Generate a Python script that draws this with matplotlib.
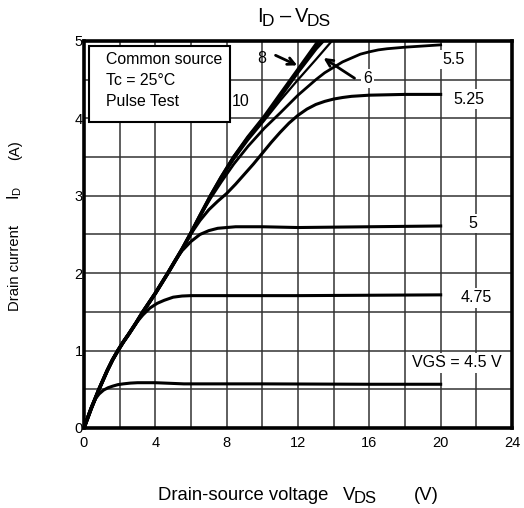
import numpy as np
import matplotlib
matplotlib.use('Agg')
import matplotlib.pyplot as plt
from matplotlib.patches import Rectangle

plt.rcParams['font.family'] = ['Liberation Sans', 'DejaVu Sans']
plt.rcParams['mathtext.fontset'] = 'custom'
plt.rcParams['mathtext.rm'] = 'Liberation Sans'
plt.rcParams['mathtext.it'] = 'Liberation Sans'

#
# curve data: VDS (V), ID (A)
# the higher VGS curves share the common linear part near the origin
#
v_main = [0, 0.4, 0.84, 1.3, 1.6, 1.9, 2.2, 2.5, 2.9, 3.3, 4.0, 4.7, 5.5, 6.0, 6.5, 7.1,
          7.7, 8.4]
i_main = [0, 0.25, 0.5, 0.74, 0.88, 1.0, 1.11, 1.21, 1.35, 1.5, 1.74, 2.0, 2.31, 2.52, 2.74,
          3.0, 3.24, 3.5]

v_10 = v_main + [9.2, 10.1, 11.0, 12.0, 13.15]
i_10 = i_main + [3.76, 4.02, 4.31, 4.63, 5.0]

v_8 = v_main + [9.2, 10.1, 11.0, 12.0, 13.0, 13.4]
i_8 = i_main + [3.75, 4.0, 4.28, 4.6, 4.9, 5.0]

v_6 = v_main[:16] + [7.7, 8.4, 9.2, 10.1, 11.0, 12.0, 13.0, 13.9]
i_6 = i_main[:16] + [3.23, 3.47, 3.72, 3.97, 4.23, 4.5, 4.76, 5.0]

v_55 = v_main[:15] + [7.1, 7.7, 8.4, 9.2, 10.1, 11.0, 12.0, 13.0, 13.5, 14.0, 14.5, 15.0,
                      15.5, 16.0, 16.5, 17.0, 18.0, 20.0]
i_55 = i_main[:15] + [2.97, 3.18, 3.41, 3.64, 3.87, 4.07, 4.30, 4.50, 4.59, 4.66, 4.73, 4.78,
                      4.83, 4.86, 4.885, 4.90, 4.92, 4.95]

v_525 = v_main[:13] + [6.0, 6.5, 7.0, 7.5, 8.0, 8.5, 9.0, 9.5, 10.0, 10.5, 11.0, 11.5,
                       12.0, 12.5, 13.0, 13.5, 14.0, 14.5, 15.0, 16.0, 18.0, 20.0]
i_525 = i_main[:13] + [2.51, 2.68, 2.82, 2.93, 3.03, 3.15, 3.28, 3.41, 3.55, 3.69, 3.82, 3.94,
                       4.04, 4.12, 4.18, 4.22, 4.25, 4.27, 4.285, 4.30, 4.31, 4.31]

v_5 = v_main[:12] + [5.1, 5.5, 6.0, 6.5, 7.0, 7.5, 8.0, 8.5, 10.0, 12.0, 14.0, 16.0, 20.0]
i_5 = i_main[:12] + [2.16, 2.29, 2.41, 2.50, 2.55, 2.58, 2.59, 2.60, 2.60, 2.59, 2.595, 2.60, 2.61]

v_475 = v_main[:9] + [3.3, 3.7, 4.1, 4.5, 5.0, 5.5, 6.0, 8.0, 12.0, 16.0, 20.0]
i_475 = i_main[:9] + [1.46, 1.55, 1.61, 1.65, 1.69, 1.705, 1.71, 1.71, 1.71, 1.715, 1.72]

v_45 = [0, 0.15, 0.3, 0.45, 0.65, 0.85, 1.1, 1.35, 1.6, 1.9, 2.2, 2.6, 3.0, 4.0, 5.6,
        10.0, 16.0, 20.0]
i_45 = [0, 0.1, 0.2, 0.29, 0.38, 0.44, 0.49, 0.52, 0.54, 0.56, 0.57, 0.58, 0.585, 0.585, 0.57,
        0.57, 0.565, 0.565]

curves = [(v_10, i_10, 2.6), (v_8, i_8, 2.6), (v_6, i_6, 1.6), (v_55, i_55, 2.0),
          (v_525, i_525, 2.2), (v_5, i_5, 2.2), (v_475, i_475, 2.2), (v_45, i_45, 2.2)]

# curve labels: text, x, y
labels = [('5.5', 20.7, 4.76), ('5.25', 21.6, 4.25), ('5', 21.8, 2.64),
          ('4.75', 22.0, 1.68), ('VGS = 4.5 V', 20.9, 0.84), ('6', 15.9, 4.52)]

x_major = np.arange(0, 25, 4)
x_minor = np.arange(0, 25, 2)
y_major = np.arange(0, 6, 1)
y_minor = np.arange(0, 5.01, 0.5)

W, H = 524.0, 508.0


def ptext(fig, px, py, s, size, ha='left', **kw):
    # place text by pixel position (from top-left), baseline aligned
    return fig.text(px / W, 1 - py / H, s, fontsize=size, ha=ha, va='baseline', **kw)


def main():
    fig = plt.figure(figsize=(5.24, 5.08), dpi=100)
    ax = fig.add_axes([0.1603, 0.1575, 0.8168, 0.7618])

    for v, i, lw in curves:
        ax.plot(v, i, color='black', lw=lw, solid_joinstyle='round', zorder=3)

    ax.set_xlim(0, 24)
    ax.set_ylim(0, 5)
    ax.set_xticks(x_major)
    ax.set_xticks(x_minor, minor=True)
    ax.set_yticks(y_major)
    ax.set_yticks(y_minor, minor=True)
    ax.tick_params(which='both', length=0, labelsize=10.5)
    ax.tick_params(axis='x', pad=6)
    ax.tick_params(axis='y', pad=1)
    ax.grid(which='both', color='#333333', lw=1.1)
    ax.set_axisbelow(True)
    for s in ax.spines.values():
        s.set_linewidth(2.6)

    for t, x, y in labels:
        ax.text(x, y, t, fontsize=11.5, ha='center', va='center', zorder=5,
                bbox=dict(facecolor='white', edgecolor='none', pad=1.5))
    ax.text(8.3, 4.22, '10', fontsize=11.5, ha='left', va='center', zorder=5,
            bbox=dict(facecolor='white', edgecolor='none', pad=1.0))
    ax.text(9.95, 4.78, '8', fontsize=11.5, ha='center', va='center', zorder=5)

    arrow = dict(arrowstyle='->,head_length=0.5,head_width=0.25', lw=2, color='black')
    ax.annotate('', xy=(12.1, 4.67), xytext=(10.6, 4.83), arrowprops=arrow, zorder=5)
    ax.annotate('', xy=(13.3, 4.8), xytext=(15.3, 4.5), arrowprops=arrow, zorder=5)

    # info box
    ax.add_patch(Rectangle((0.3, 3.95), 7.9, 0.99, facecolor='white',
                           edgecolor='black', lw=1.5, zorder=6))
    ax.text(1.23, 4.76, 'Common source', fontsize=11.4, va='center', zorder=7)
    ax.text(1.23, 4.49, 'Tc = 25°C', fontsize=11.4, va='center', zorder=7)
    ax.text(1.23, 4.22, 'Pulse Test', fontsize=11.4, va='center', zorder=7)

    # title  I_D - V_DS
    ptext(fig, 257, 22, 'I', 14.5)
    ptext(fig, 262, 26, 'D', 12.5)
    ptext(fig, 286, 22, '–', 14.5, ha='center')
    ptext(fig, 295, 22, 'V', 14.5)
    ptext(fig, 307, 26, 'DS', 12.5)

    # x label
    ptext(fig, 243.3, 500, 'Drain-source voltage', 13.3, ha='center')
    ptext(fig, 343, 500, 'V', 13.3)
    ptext(fig, 354, 503, 'DS', 12)
    ptext(fig, 426, 500, '(V)', 13.3, ha='center')

    # y label
    fig.text(0.0286, 0.4724, 'Drain current', fontsize=10.6, rotation=90, ha='center', va='center')
    fig.text(0.0286, 0.620, r'I$_{\mathrm{D}}$', fontsize=11.5, rotation=90, ha='center', va='center')
    fig.text(0.0286, 0.705, '(A)', fontsize=10.6, rotation=90, ha='center', va='center')

    plt.savefig('out.png', dpi=100)


main()
